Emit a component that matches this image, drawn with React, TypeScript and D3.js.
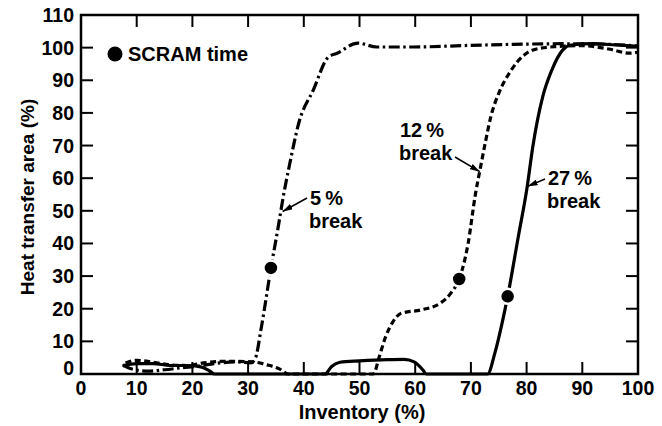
import React from "react";
import * as d3 from "d3";

// ---------- data ----------
const xTicks = [0, 10, 20, 30, 40, 50, 60, 70, 80, 90, 100];
const yTicks = [0, 10, 20, 30, 40, 50, 60, 70, 80, 90, 100, 110];

// 5% break (dash-dot)
const break5: [number, number][] = [
  [7.5, 2.8], [9, 1.6], [12, 0.9], [15, 1.3], [18, 1.9], [21, 2.4], [24, 3.2], [28, 3.7],
  [30.5, 3.4], [31.3, 4.8], [32.4, 14.5], [34.1, 32.5], [35.4, 45], [36.3, 54.2],
  [37.5, 64.6], [39.1, 76.9], [41.7, 87], [44.4, 97.1], [46, 98.3], [49.7, 101.4],
  [53.1, 100.2], [59.6, 100.2], [70, 100.7], [77.6, 101], [86.5, 101.2], [95, 101], [100, 100.5],
];

// 12% break (dashed)
const break12: [number, number][] = [
  [8, 3.4], [10, 4.2], [13, 3.6], [16, 2.8], [19, 2.6], [22, 3.4], [26, 3.9], [30.9, 3.7],
  [33.4, 2.8], [35.7, 1.5], [37.2, 0], [45, 0], [52.5, 0], [53.5, 5], [54.6, 11], [56, 16],
  [57.5, 18.6], [60.9, 19.6], [64.5, 21.7], [66.5, 25], [67.9, 29.1], [69.5, 40], [70.8, 55],
  [71.8, 64], [72.6, 71], [73.6, 79], [75, 86], [77.2, 93], [79.4, 97.5], [81, 99.2],
  [85, 100.3], [90, 100.6], [95, 99.5], [98.5, 98.3], [100, 98.6],
];

// 27% break (solid)
const break27: [number, number][] = [
  [7.5, 2.5], [10, 3.2], [13, 3.2], [16, 2.6], [19, 2.6], [21.5, 2.2], [23, 1], [24, 0],
  [35, 0], [43.8, 0], [45, 2.3], [46.5, 3.6], [50, 4], [55, 4.4], [58, 4.5], [59.8, 3.7],
  [61.4, 1.2], [62, 0], [68, 0], [73, 0], [74.3, 6.4], [75.6, 15.6], [76.6, 23.8],
  [78.5, 42], [80.1, 57.3], [81.1, 69.5], [82.9, 85], [84.5, 93], [86.5, 99.3],
  [88, 100.8], [92, 101.2], [96, 100.8], [100, 100.4],
];

const scramX = [34.1, 67.9, 76.6];
const scramY = [32.5, 29.1, 23.8];

// ---------- layout ----------
const W = 662;
const H = 426;
const left = 81;
const right = 638;
const top = 15;
const bottom = 374;
const FONT = "'Liberation Sans', Arial, Helvetica, sans-serif";

export default function App() {
  const x = d3.scaleLinear().domain([0, 100]).range([left, right]);
  const y = d3.scaleLinear().domain([0, 110]).range([bottom, top]);
  const line = d3
    .line<[number, number]>()
    .x((d) => x(d[0]))
    .y((d) => y(d[1]))
    .curve(d3.curveMonotoneX);

  const tickLen = 12;
  const sw = 3.2;

  return (
    <svg
      width={W}
      height={H}
      style={{ position: "absolute", left: 0, top: 0, background: "#fff" }}
      fontFamily={FONT}
      fontWeight="bold"
    >
      <defs>
        <marker
          id="arr"
          viewBox="0 0 10 6"
          refX="10"
          refY="3"
          markerWidth="10"
          markerHeight="6"
          markerUnits="userSpaceOnUse"
          orient="auto"
        >
          <path d="M0,0 L10,3 L0,6 Z" fill="#000" />
        </marker>
      </defs>
      <rect x={0} y={0} width={W} height={H} fill="#fff" />

      {/* curves */}
      <path d={line(break5) || ""} fill="none" stroke="#000" strokeWidth={sw} strokeDasharray="11,3.5,2.5,3.5" />
      <path d={line(break12) || ""} fill="none" stroke="#000" strokeWidth={sw} strokeDasharray="6,3.5" />
      <path d={line(break27) || ""} fill="none" stroke="#000" strokeWidth={sw} />

      {/* frame */}
      <rect
        x={left}
        y={top}
        width={right - left}
        height={bottom - top}
        fill="none"
        stroke="#000"
        strokeWidth={2.5}
      />

      {/* ticks */}
      {xTicks.slice(1, -1).map((t) => (
        <g key={"xt" + t}>
          <line x1={x(t)} x2={x(t)} y1={bottom} y2={bottom - tickLen} stroke="#000" strokeWidth={2} />
          <line x1={x(t)} x2={x(t)} y1={top} y2={top + tickLen} stroke="#000" strokeWidth={2} />
        </g>
      ))}
      {yTicks.slice(1, -1).map((t) => (
        <g key={"yt" + t}>
          <line x1={left} x2={left + tickLen} y1={y(t)} y2={y(t)} stroke="#000" strokeWidth={2} />
          <line x1={right} x2={right - tickLen} y1={y(t)} y2={y(t)} stroke="#000" strokeWidth={2} />
        </g>
      ))}

      {/* tick labels */}
      {xTicks.map((t) => (
        <text key={"xl" + t} x={x(t)} y={bottom + 21} fontSize={19.5} textAnchor="middle">
          {t}
        </text>
      ))}
      {yTicks.map((t) => (
        <text
          key={"yl" + t}
          x={left - 7}
          y={y(t) + (t === 0 ? -6 : 0)}
          fontSize={19.5}
          textAnchor="end"
          dominantBaseline="central"
        >
          {t}
        </text>
      ))}

      {/* axis titles */}
      <text x={362} y={419} fontSize={20} textAnchor="middle">
        Inventory (%)
      </text>
      <text
        transform={`translate(34,${197}) rotate(-90)`}
        fontSize={19}
        textAnchor="middle"
      >
        Heat transfer area (%)
      </text>

      {/* SCRAM markers */}
      {scramX.map((sx, i) => (
        <circle key={"s" + i} cx={x(sx)} cy={y(scramY[i])} r={7.5} fill="#000" stroke="#fff" strokeWidth={2.5} />
      ))}

      {/* legend */}
      <circle cx={115} cy={54} r={7.5} fill="#000" />
      <text x={128} y={54} fontSize={20} dominantBaseline="central">
        SCRAM time
      </text>

      {/* annotations */}
      <text x={310} y={205} fontSize={20}>5{"\u2009"}%</text>
      <text x={309} y={228} fontSize={20}>break</text>
      <line x1={307} y1={198} x2={x(36.2)} y2={y(49.8)} stroke="#000" strokeWidth={1.5} markerEnd="url(#arr)" />

      <text x={400} y={137} fontSize={20}>12{"\u2009"}%</text>
      <text x={399} y={160} fontSize={20}>break</text>
      <line x1={455} y1={157} x2={x(71.6)} y2={y(62)} stroke="#000" strokeWidth={1.5} markerEnd="url(#arr)" />

      <text x={548} y={185} fontSize={20}>27{"\u2009"}%</text>
      <text x={547} y={208} fontSize={20}>break</text>
      <line x1={545} y1={179} x2={x(80.2)} y2={y(57.5)} stroke="#000" strokeWidth={1.5} markerEnd="url(#arr)" />
    </svg>
  );
}
